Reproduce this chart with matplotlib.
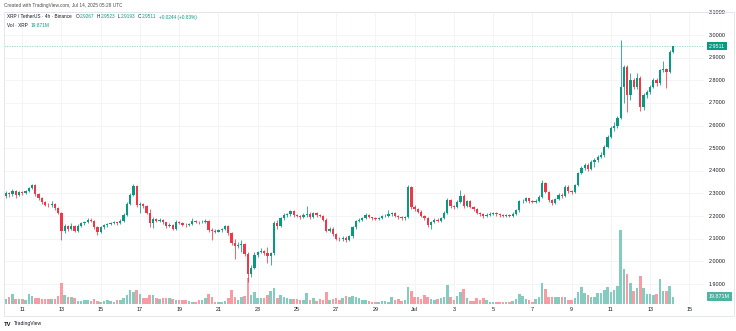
import matplotlib
matplotlib.use("Agg")
import matplotlib.pyplot as plt
from matplotlib.transforms import blended_transform_factory
from matplotlib.patches import Rectangle
import numpy as np

plt.rcParams['font.family'] = ['Liberation Sans', 'DejaVu Sans']

# ---------------- data (XRP/USDT 4h, Binance) ----------------
opens = [
 2.290, 2.300, 2.296, 2.312, 2.292, 2.305, 2.302, 2.310, 2.322, 2.337,
 2.296, 2.278, 2.262, 2.250, 2.248, 2.252, 2.236, 2.215, 2.135, 2.155,
 2.145, 2.158, 2.135, 2.158, 2.168, 2.172, 2.185, 2.180, 2.150, 2.130,
 2.150, 2.160, 2.165, 2.170, 2.172, 2.168, 2.180, 2.205, 2.255, 2.295,
 2.335, 2.250, 2.255, 2.245, 2.215, 2.170, 2.188, 2.180, 2.183, 2.172,
 2.155, 2.162, 2.145, 2.175, 2.170, 2.162, 2.160, 2.165, 2.180, 2.175,
 2.172, 2.175, 2.180, 2.140, 2.135, 2.132, 2.138, 2.142, 2.155, 2.125,
 2.080, 2.068, 2.072, 2.078, 2.032, 1.945, 1.972, 2.030, 2.040, 2.045,
 2.035, 2.025, 2.035, 2.170, 2.158, 2.190, 2.205, 2.208, 2.222, 2.205,
 2.200, 2.195, 2.205, 2.210, 2.195, 2.212, 2.205, 2.200, 2.185, 2.135,
 2.145, 2.120, 2.100, 2.098, 2.105, 2.095, 2.110, 2.150, 2.178, 2.185,
 2.190, 2.205, 2.195, 2.190, 2.188, 2.192, 2.200, 2.202, 2.208, 2.212,
 2.200, 2.195, 2.190, 2.195, 2.330, 2.240, 2.230, 2.220, 2.200, 2.190,
 2.160, 2.175, 2.185, 2.180, 2.190, 2.215, 2.270, 2.245, 2.240, 2.262,
 2.290, 2.245, 2.265, 2.240, 2.230, 2.215, 2.210, 2.200, 2.205, 2.210,
 2.212, 2.208, 2.205, 2.202, 2.204, 2.200, 2.210, 2.225, 2.265, 2.268,
 2.278, 2.265, 2.262, 2.268, 2.285, 2.345, 2.307, 2.270, 2.258, 2.275,
 2.295, 2.290, 2.330, 2.310, 2.305, 2.337, 2.390, 2.413, 2.426, 2.410,
 2.440, 2.448, 2.462, 2.468, 2.507, 2.551, 2.590, 2.596, 2.634, 2.772,
 2.860, 2.735, 2.800, 2.770, 2.810, 2.680, 2.735, 2.748, 2.772, 2.800,
 2.787, 2.845, 2.848, 2.838, 2.9267]

highs = [
 2.310, 2.308, 2.318, 2.316, 2.310, 2.312, 2.316, 2.328, 2.342, 2.340,
 2.300, 2.284, 2.268, 2.258, 2.268, 2.256, 2.242, 2.220, 2.165, 2.162,
 2.168, 2.162, 2.165, 2.174, 2.178, 2.192, 2.190, 2.184, 2.156, 2.156,
 2.166, 2.170, 2.176, 2.178, 2.176, 2.186, 2.212, 2.262, 2.302, 2.342,
 2.338, 2.262, 2.260, 2.250, 2.232, 2.195, 2.192, 2.190, 2.188, 2.176,
 2.168, 2.166, 2.182, 2.180, 2.174, 2.168, 2.170, 2.190, 2.185, 2.180,
 2.182, 2.186, 2.184, 2.146, 2.142, 2.144, 2.148, 2.162, 2.160, 2.130,
 2.098, 2.085, 2.095, 2.082, 2.040, 1.985, 2.040, 2.048, 2.058, 2.052,
 2.062, 2.040, 2.178, 2.182, 2.196, 2.212, 2.215, 2.228, 2.226, 2.210,
 2.205, 2.212, 2.245, 2.216, 2.220, 2.218, 2.210, 2.204, 2.190, 2.152,
 2.150, 2.125, 2.108, 2.112, 2.110, 2.118, 2.156, 2.184, 2.192, 2.196,
 2.212, 2.210, 2.198, 2.194, 2.198, 2.206, 2.208, 2.226, 2.218, 2.216,
 2.205, 2.200, 2.202, 2.336, 2.334, 2.250, 2.236, 2.226, 2.206, 2.194,
 2.180, 2.192, 2.190, 2.196, 2.222, 2.278, 2.276, 2.250, 2.270, 2.315,
 2.296, 2.272, 2.270, 2.246, 2.236, 2.220, 2.214, 2.212, 2.216, 2.218,
 2.216, 2.212, 2.210, 2.210, 2.208, 2.216, 2.232, 2.272, 2.276, 2.284,
 2.282, 2.270, 2.274, 2.292, 2.360, 2.350, 2.312, 2.276, 2.282, 2.302,
 2.300, 2.338, 2.336, 2.316, 2.344, 2.396, 2.420, 2.434, 2.436, 2.448,
 2.458, 2.470, 2.485, 2.515, 2.560, 2.598, 2.615, 2.642, 2.978, 2.868,
 2.866, 2.832, 2.810, 2.830, 2.818, 2.742, 2.756, 2.780, 2.808, 2.812,
 2.852, 2.885, 2.855, 2.932, 2.9523]

lows = [
 2.282, 2.285, 2.290, 2.280, 2.288, 2.295, 2.298, 2.305, 2.318, 2.290,
 2.270, 2.255, 2.244, 2.240, 2.242, 2.228, 2.208, 2.095, 2.125, 2.135,
 2.140, 2.128, 2.130, 2.152, 2.162, 2.168, 2.174, 2.142, 2.118, 2.126,
 2.145, 2.154, 2.160, 2.164, 2.160, 2.164, 2.176, 2.200, 2.250, 2.288,
 2.240, 2.215, 2.238, 2.208, 2.150, 2.148, 2.172, 2.174, 2.166, 2.148,
 2.150, 2.138, 2.140, 2.164, 2.156, 2.154, 2.155, 2.160, 2.168, 2.165,
 2.168, 2.170, 2.132, 2.095, 2.125, 2.128, 2.132, 2.138, 2.118, 2.072,
 2.010, 2.058, 2.040, 2.025, 1.909, 1.930, 1.965, 2.020, 2.035, 2.028,
 1.992, 1.985, 2.030, 2.145, 2.152, 2.185, 2.198, 2.202, 2.198, 2.194,
 2.188, 2.190, 2.198, 2.188, 2.190, 2.198, 2.195, 2.178, 2.128, 2.128,
 2.112, 2.094, 2.090, 2.092, 2.085, 2.090, 2.105, 2.145, 2.172, 2.180,
 2.186, 2.190, 2.184, 2.182, 2.184, 2.188, 2.196, 2.198, 2.202, 2.194,
 2.188, 2.182, 2.185, 2.190, 2.232, 2.224, 2.212, 2.194, 2.182, 2.150,
 2.145, 2.170, 2.174, 2.176, 2.186, 2.210, 2.238, 2.232, 2.236, 2.256,
 2.238, 2.240, 2.234, 2.224, 2.208, 2.202, 2.192, 2.196, 2.200, 2.204,
 2.200, 2.198, 2.194, 2.196, 2.194, 2.196, 2.205, 2.220, 2.258, 2.262,
 2.258, 2.256, 2.258, 2.262, 2.280, 2.300, 2.262, 2.250, 2.254, 2.270,
 2.282, 2.286, 2.302, 2.298, 2.300, 2.332, 2.384, 2.405, 2.400, 2.404,
 2.418, 2.440, 2.455, 2.460, 2.500, 2.545, 2.575, 2.588, 2.628, 2.700,
 2.660, 2.712, 2.760, 2.762, 2.665, 2.670, 2.720, 2.740, 2.765, 2.775,
 2.780, 2.835, 2.765, 2.832, 2.9193]

closes = [
 2.300, 2.296, 2.312, 2.292, 2.305, 2.302, 2.310, 2.322, 2.337, 2.296,
 2.278, 2.262, 2.250, 2.248, 2.252, 2.236, 2.215, 2.135, 2.155, 2.145,
 2.158, 2.135, 2.158, 2.168, 2.172, 2.185, 2.180, 2.150, 2.130, 2.150,
 2.160, 2.165, 2.170, 2.172, 2.168, 2.180, 2.205, 2.255, 2.295, 2.335,
 2.250, 2.255, 2.245, 2.215, 2.170, 2.188, 2.180, 2.183, 2.172, 2.155,
 2.162, 2.145, 2.175, 2.170, 2.162, 2.160, 2.165, 2.180, 2.175, 2.172,
 2.175, 2.180, 2.140, 2.135, 2.132, 2.138, 2.142, 2.155, 2.125, 2.080,
 2.068, 2.072, 2.078, 2.032, 1.945, 1.972, 2.030, 2.040, 2.045, 2.035,
 2.025, 2.035, 2.170, 2.158, 2.190, 2.205, 2.208, 2.222, 2.205, 2.200,
 2.195, 2.205, 2.210, 2.195, 2.212, 2.205, 2.200, 2.185, 2.135, 2.145,
 2.120, 2.100, 2.098, 2.105, 2.095, 2.110, 2.150, 2.178, 2.185, 2.190,
 2.205, 2.195, 2.190, 2.188, 2.192, 2.200, 2.202, 2.208, 2.212, 2.200,
 2.195, 2.190, 2.195, 2.330, 2.240, 2.230, 2.220, 2.200, 2.190, 2.160,
 2.175, 2.185, 2.180, 2.190, 2.215, 2.270, 2.245, 2.240, 2.262, 2.290,
 2.245, 2.265, 2.240, 2.230, 2.215, 2.210, 2.200, 2.205, 2.210, 2.212,
 2.208, 2.205, 2.202, 2.204, 2.200, 2.210, 2.225, 2.265, 2.268, 2.278,
 2.265, 2.262, 2.268, 2.285, 2.345, 2.307, 2.270, 2.258, 2.275, 2.295,
 2.290, 2.330, 2.310, 2.305, 2.337, 2.390, 2.413, 2.426, 2.410, 2.440,
 2.448, 2.462, 2.468, 2.507, 2.551, 2.590, 2.596, 2.634, 2.772, 2.860,
 2.735, 2.800, 2.770, 2.810, 2.680, 2.735, 2.748, 2.772, 2.800, 2.787,
 2.845, 2.848, 2.838, 2.9267, 2.9511]

volumes_m = [
 12.8, 19.0, 26.4, 14.4, 14.4, 14.4, 10.1, 26.4, 21.8, 15.5,
 15.5, 14.4, 14.4, 12.8, 14.4, 14.4, 21.8, 56.3, 23.7, 19.9,
 19.9, 16.3, 8.2, 9.0, 10.1, 10.1, 8.2, 14.4, 8.2, 6.3,
 7.3, 10.1, 8.2, 6.3, 10.9, 10.9, 15.5, 24.5, 37.3, 32.6,
 37.3, 26.4, 15.5, 17.1, 23.7, 24.5, 15.5, 12.8, 15.5, 17.1,
 17.1, 12.8, 10.9, 10.1, 10.1, 10.1, 8.2, 6.3, 6.3, 10.1,
 10.1, 15.5, 28.0, 19.9, 6.3, 6.3, 6.3, 8.2, 17.1, 37.3,
 19.0, 10.9, 19.0, 21.8, 71.5, 24.5, 32.6, 15.5, 15.5, 15.5,
 23.7, 35.4, 44.3, 15.5, 24.5, 19.9, 15.5, 13.6, 12.8, 13.6,
 10.9, 10.9, 29.1, 10.9, 15.5, 8.2, 13.6, 10.9, 33.5, 10.9,
 13.6, 16.3, 10.9, 16.3, 22.6, 18.2, 22.6, 19.9, 16.3, 10.9,
 10.9, 9.0, 6.3, 4.6, 4.6, 9.0, 9.0, 4.6, 18.2, 10.9,
 13.6, 9.0, 10.9, 45.4, 36.2, 18.2, 18.2, 13.6, 25.3, 19.9,
 13.6, 10.9, 13.6, 16.3, 19.9, 51.7, 19.9, 10.9, 22.6, 31.8,
 40.8, 16.3, 9.0, 9.0, 16.3, 10.9, 15.5, 10.9, 6.3, 6.3,
 6.3, 6.3, 6.3, 6.3, 6.3, 9.0, 13.6, 27.2, 22.6, 13.6,
 10.9, 6.3, 13.6, 18.2, 56.3, 40.8, 19.9, 18.2, 18.2, 18.2,
 18.2, 18.2, 10.9, 10.9, 16.3, 31.8, 45.4, 29.1, 24.5, 19.9,
 19.9, 29.1, 29.1, 38.9, 47.1, 33.5, 38.1, 49.8, 201.3, 95.2,
 81.6, 56.3, 34.5, 43.5, 75.3, 43.5, 27.2, 27.2, 25.3, 27.2,
 68.0, 36.2, 36.2, 49.8, 19.871]

price_ticks = [1.9, 2.0, 2.1, 2.2, 2.3, 2.4, 2.5, 2.6, 2.7, 2.8, 2.9, 3.0, 3.1]
time_labels = ['11', '13', '15', '17', '19', '21', '23', '25', '27', '29',
               'Jul', '3', '5', '7', '9', '11', '13', '15']
time_label_idx = [5, 17, 29, 41, 53, 65, 77, 89, 101, 113,
                  125, 137, 149, 161, 173, 185, 197, 209]
last_price = 2.9511
last_volume_text = '19.871M'
header_text = 'Created with TradingView.com, Jul 14, 2025 05:28 UTC'
symbol_text = 'XRP / TetherUS \u00b7 4h \u00b7 Binance'
ohlc_parts = [('O', '2.9267'), ('H', '2.9523'), ('L', '2.9193'), ('C', '2.9511')]
change_text = '+0.0244 (+0.83%)'

# ---------------- style ----------------
UP = '#089981'
DOWN = '#F23645'
UP_VOL = '#84ccc0'
DOWN_VOL = '#f89ba2'
GRID = '#f3f4f6'
TXT = '#131722'
FS_AX = 3.9
FS_LEG = 3.4

W, H = 736, 331
fig = plt.figure(figsize=(W / 100, H / 100), dpi=100)
fig.patch.set_facecolor('white')


def fx(x):
    return x / W


def fy(y):
    return 1 - y / H


rect = [fx(4), fy(304), 700 / W, 292 / H]
axg = fig.add_axes(rect)
axv = fig.add_axes(rect, sharex=axg)
ax = fig.add_axes(rect, sharex=axg, sharey=axg)

for a in (axg, axv, ax):
    for s in a.spines.values():
        s.set_visible(False)
    a.tick_params(left=False, bottom=False, labelleft=False, labelbottom=False)
axv.patch.set_visible(False)
ax.patch.set_visible(False)

n = len(closes)
x = np.arange(n)
o = np.array(opens)
c = np.array(closes)
hi = np.array(highs)
lo = np.array(lows)
up = c >= o
cols = np.where(up, UP, DOWN)
vcols = np.where(up, UP_VOL, DOWN_VOL)

ax.set_xlim(-0.58, 213.49)
ax.set_ylim(1.8118, 3.1016)

# grid
axg.set_yticks(price_ticks)
axg.set_xticks(time_label_idx)
axg.grid(True, color=GRID, lw=0.7)

# volume
axv.bar(x, volumes_m, width=0.78, color=vcols, lw=0)
axv.set_ylim(0, 794)

# candles
ax.vlines(x, lo, hi, colors=cols, lw=0.55)
body_bottom = np.minimum(o, c)
body_h = np.maximum(np.abs(c - o), 0.0015)
ax.bar(x, body_h, bottom=body_bottom, width=0.7, color=cols, lw=0)

# last price dotted line
ax.axhline(last_price, color=UP, lw=0.6, ls=(0, (1.5, 1.5)), alpha=0.45)

# price scale labels
trp = blended_transform_factory(fig.transFigure, ax.transData)
for p in price_ticks:
    ax.text(fx(709), p, f'{p:.4f}', transform=trp, ha='left', va='center',
            fontsize=FS_AX, color=TXT, clip_on=False)
ax.text(fx(709), last_price, f'{last_price:.4f}', transform=trp, ha='left', va='center',
        fontsize=FS_AX, color='white', clip_on=False, zorder=10,
        bbox=dict(boxstyle='square,pad=0.35', fc=UP, ec='none'))
trv = blended_transform_factory(fig.transFigure, axv.transData)
axv.text(fx(709), volumes_m[-1], last_volume_text, transform=trv, ha='left', va='center',
         fontsize=FS_AX, color='white', clip_on=False, zorder=10,
         bbox=dict(boxstyle='square,pad=0.35', fc='#4fb3a2', ec='none'))

# time labels
trt = blended_transform_factory(ax.transData, fig.transFigure)
for idx, lab in zip(time_label_idx, time_labels):
    ax.text(idx, fy(309.5), lab, transform=trt, ha='center', va='center',
            fontsize=FS_AX, color=TXT, clip_on=False)

# frame
fig.patches.append(Rectangle((fx(4), fy(316)), 730 / W, 304 / H, transform=fig.transFigure,
                             fill=False, ec='#e0e3eb', lw=0.6))

# header texts, placed one after another
fig.text(fx(4), fy(6), header_text, fontsize=FS_LEG, color='#4a4a4a', va='center', ha='left')
renderer = fig.canvas.get_renderer()


def put(xpix, ypix, s, color):
    t = fig.text(fx(xpix), fy(ypix), s, fontsize=FS_LEG, color=color, va='center', ha='left')
    bb = t.get_window_extent(renderer=renderer)
    return bb.x1


xe = put(7, 17, symbol_text, TXT) + 4
for k, v in ohlc_parts:
    xe = put(xe, 17, k, TXT) + 0.4
    xe = put(xe, 17, v, UP) + 2.5
put(xe, 17, change_text, UP)
xe = put(7, 25.5, 'Vol \u00b7 XRP', TXT) + 2.5
put(xe, 25.5, last_volume_text, UP)

# footer logo
fig.text(fx(4), fy(324), 'TV', fontsize=4.2, color='#131722', va='center', ha='left',
         fontweight='bold')
fig.text(fx(13.5), fy(324), 'TradingView', fontsize=3.6, color='#131722', va='center', ha='left')

fig.savefig('out.png', dpi=100, facecolor='white')
